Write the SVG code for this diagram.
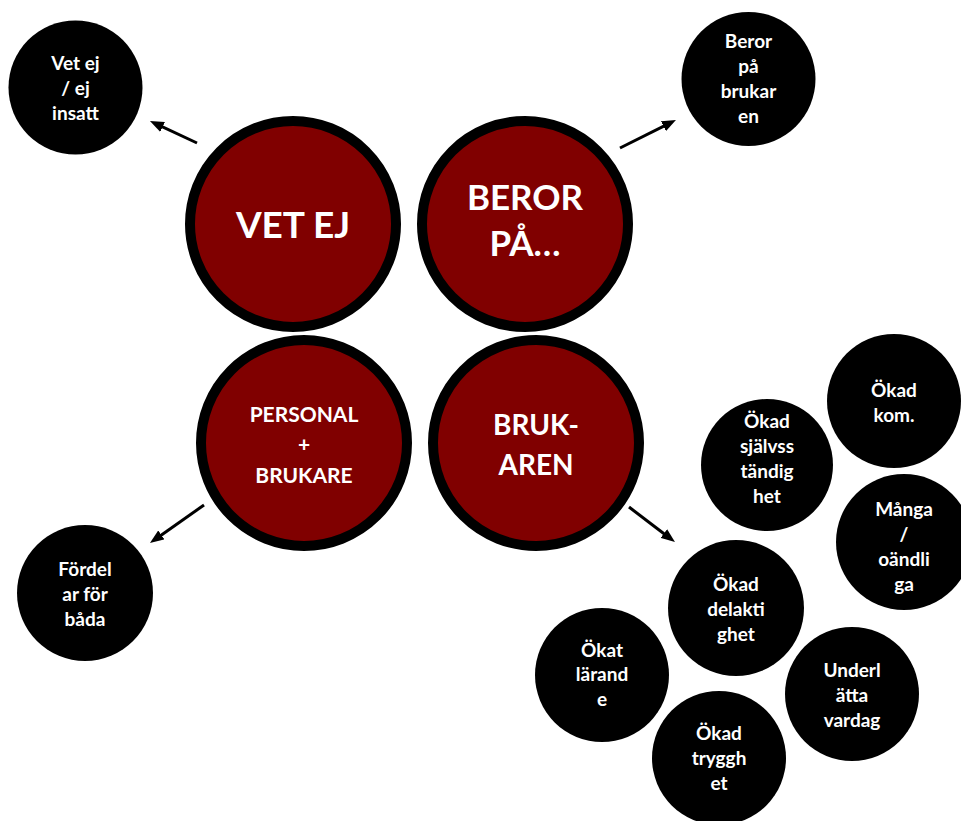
<svg xmlns="http://www.w3.org/2000/svg" width="961" height="821" viewBox="0 0 961 821">
<defs>
<marker id="ah" markerUnits="userSpaceOnUse" markerWidth="14" markerHeight="11" refX="6" refY="5.5" orient="auto">
<path d="M0,0 L14,5.5 L0,11 z" fill="#000"/>
</marker>
</defs>
<style>
.big{fill:#800000;stroke:#000;stroke-width:10}
.sm{fill:#000}
text{font-family:Lato,"Open Sans","Liberation Sans",sans-serif;font-weight:bold;fill:#fff;text-anchor:middle}
.t{font-size:19px}
.conn line{stroke:#000;stroke-width:3;marker-end:url(#ah)}
</style>
<rect width="961" height="821" fill="#fff"/>
<g class="conn" id="connectors">
<line x1="197" y1="143" x2="157.2" y2="124.4"/>
<line x1="620" y1="148" x2="668.8" y2="123.6"/>
<line x1="204" y1="505" x2="156.5" y2="538.4"/>
<line x1="629" y1="507" x2="668.6" y2="537.2"/>
</g>
<g id="vetej">
<circle class="big" cx="293" cy="224" r="103"/>
<text x="293" y="238" style="font-size:37px">VET EJ</text>
</g>
<g id="beror">
<circle class="big" cx="525" cy="224" r="103"/>
<text x="525" y="210" style="font-size:35px">BEROR</text>
<text x="525" y="256" style="font-size:35px">PÅ…</text>
</g>
<g id="personal">
<circle class="big" cx="304" cy="443" r="103"/>
<text x="304" y="422" style="font-size:21px">PERSONAL</text>
<text x="304" y="452" style="font-size:21px">+</text>
<text x="304" y="483" style="font-size:21px">BRUKARE</text>
</g>
<g id="brukaren">
<circle class="big" cx="536" cy="443" r="103"/>
<text x="536" y="435" style="font-size:28px">BRUK-</text>
<text x="536" y="475" style="font-size:28px">AREN</text>
</g>
<g id="n-vetej-insatt">
<circle class="sm" cx="75.5" cy="87.5" r="67"/>
<text class="t" x="75.5" y="70">Vet ej</text>
<text class="t" x="75.5" y="95">/ ej</text>
<text class="t" x="75.5" y="120">insatt</text>
</g>
<g id="n-beror-brukaren">
<circle class="sm" cx="748.5" cy="79" r="67"/>
<text class="t" x="748.5" y="48">Beror</text>
<text class="t" x="748.5" y="73">på</text>
<text class="t" x="748.5" y="98">brukar</text>
<text class="t" x="748.5" y="123">en</text>
</g>
<g id="n-fordelar">
<circle class="sm" cx="85" cy="593" r="68"/>
<text class="t" x="85" y="576">Fördel</text>
<text class="t" x="85" y="601">ar för</text>
<text class="t" x="85" y="626">båda</text>
</g>
<g id="n-okad-kom">
<circle class="sm" cx="894" cy="401" r="67"/>
<text class="t" x="894" y="397">Ökad</text>
<text class="t" x="894" y="422">kom.</text>
</g>
<g id="n-sjalvstandighet">
<circle class="sm" cx="767" cy="465" r="66"/>
<text class="t" x="767" y="428">Ökad</text>
<text class="t" x="767" y="453">självss</text>
<text class="t" x="767" y="478">tändig</text>
<text class="t" x="767" y="503">het</text>
</g>
<g id="n-manga">
<circle class="sm" cx="904" cy="542" r="68"/>
<text class="t" x="904" y="516">Många</text>
<text class="t" x="904" y="541">/</text>
<text class="t" x="904" y="566">oändli</text>
<text class="t" x="904" y="591">ga</text>
</g>
<g id="n-delaktighet">
<circle class="sm" cx="736" cy="608" r="68"/>
<text class="t" x="736" y="591">Ökad</text>
<text class="t" x="736" y="616">delakti</text>
<text class="t" x="736" y="641">ghet</text>
</g>
<g id="n-larande">
<circle class="sm" cx="602" cy="675" r="67"/>
<text class="t" x="602" y="657">Ökat</text>
<text class="t" x="602" y="681">lärand</text>
<text class="t" x="602" y="706">e</text>
</g>
<g id="n-underlatta">
<circle class="sm" cx="852" cy="694" r="67"/>
<text class="t" x="852" y="677">Underl</text>
<text class="t" x="852" y="702">ätta</text>
<text class="t" x="852" y="727">vardag</text>
</g>
<g id="n-trygghet">
<circle class="sm" cx="719" cy="758" r="67"/>
<text class="t" x="719" y="740">Ökad</text>
<text class="t" x="719" y="765">tryggh</text>
<text class="t" x="719" y="790">et</text>
</g>
</svg>
